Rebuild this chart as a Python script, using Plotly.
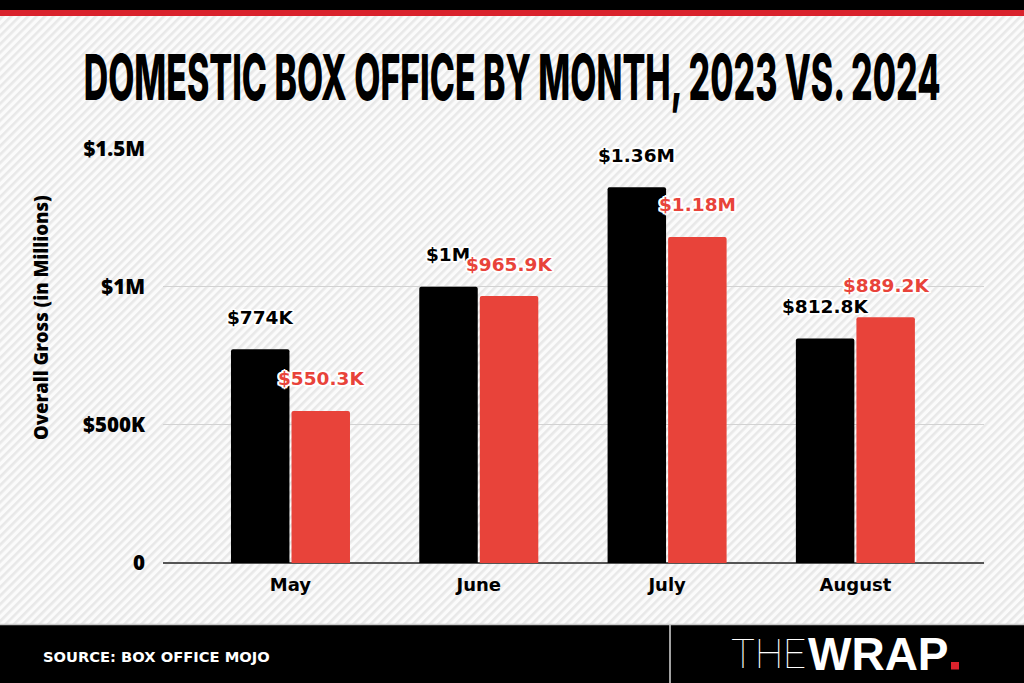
import base64
import json
import plotly.graph_objects as go

# ---- data ----
months = ["May", "June", "July", "August"]
gross_2023 = [774000, 1000000, 1360000, 812800]
gross_2024 = [550300, 965900, 1180000, 889200]
labels_2023 = ["$774K", "$1M", "$1.36M", "$812.8K"]
labels_2024 = ["$550.3K", "$965.9K", "$1.18M", "$889.2K"]
ytick_vals = [0, 500000, 1000000, 1500000]
ytick_text = ["0", "$500K", "$1M", "$1.5M"]

title_text = "DOMESTIC BOX OFFICE BY MONTH, 2023 VS. 2024"
yaxis_title = "Overall Gross (in Millions)"
source_text = "SOURCE: BOX OFFICE MOJO"

BLACK = "#000000"
RED = "#E8433A"
TOPRED = "#D9222C"

W, H = 1024, 683
L, R, T, B = 163, 40, 148, 120
PW, PH = W - L - R, H - T - B


def px(x):
    return (x - L) / PW


def py(y):
    return (H - B - y) / PH


# striped background as an svg pattern
svg = f"""<svg xmlns='http://www.w3.org/2000/svg' width='{W}' height='{H}'>
<defs><pattern id='p' width='6' height='6' patternUnits='userSpaceOnUse' patternTransform='rotate(45)'>
<rect width='6' height='6' fill='#fbfbfb'/><rect width='2.6' height='6' fill='#e8e8e8'/></pattern></defs>
<rect width='{W}' height='{H}' fill='url(#p)'/></svg>"""
svg_uri = "data:image/svg+xml;base64," + base64.b64encode(svg.encode()).decode()

fig = go.Figure()
fig.add_trace(go.Bar(x=months, y=gross_2023, name="2023", marker=dict(color=BLACK, line=dict(width=0)),
                     hoverinfo="skip"))
fig.add_trace(go.Bar(x=months, y=gross_2024, name="2024", marker=dict(color=RED, line=dict(width=0)),
                     hoverinfo="skip"))

outline = ", ".join(f"{a}px {b}px 0 #fff" for a, b in
                    [(2, 0), (-2, 0), (0, 2), (0, -2), (1, 1), (-1, -1), (1, -1), (-1, 1), (2, 1), (-2, -1), (2, -1), (-2, 1)])
annotations = []
half = 30.5
for m, v, t in zip(months, gross_2023, labels_2023):
    annotations.append(dict(x=m, y=v, xref="x", yref="y", text=t, showarrow=False, xshift=-half, yshift=32,
                            font=dict(family="DejaVu Sans", size=18.5, color=BLACK, weight="bold", shadow=outline)))
for m, v, t in zip(months, gross_2024, labels_2024):
    annotations.append(dict(x=m, y=v, xref="x", yref="y", text=t, showarrow=False, xshift=half, yshift=32,
                            font=dict(family="DejaVu Sans", size=18.5, color=RED, weight="bold", shadow=outline)))

TITLE_SIZE = 40
annotations += [
    dict(x=px(512), y=py(77), xref="paper", yref="paper", text=title_text, showarrow=False,
         xanchor="center", yanchor="middle",
         font=dict(family="Inter", size=TITLE_SIZE, color=BLACK, weight=800)),
    dict(x=px(40), y=py(318), xref="paper", yref="paper", text=yaxis_title, showarrow=False, textangle=-90,
         xanchor="center", yanchor="middle",
         font=dict(family="Open Sans", size=18.5, color=BLACK, weight=800)),
    dict(x=px(41), y=py(656), xref="paper", yref="paper", text=source_text, showarrow=False,
         xanchor="left", yanchor="middle",
         font=dict(family="DejaVu Sans", size=14.7, color="#ffffff", weight="bold")),
    dict(x=px(808), y=py(654), xref="paper", yref="paper", text="THE", showarrow=False,
         xanchor="right", yanchor="middle",
         font=dict(family="Roboto", size=40, color="#ffffff", weight=100)),
    dict(x=px(806), y=py(654), xref="paper", yref="paper", text="WRAP", showarrow=False,
         xanchor="left", yanchor="middle",
         font=dict(family="Liberation Sans", size=46, color="#ffffff", weight="bold")),
]

shapes = [
    dict(type="rect", xref="paper", yref="paper", x0=px(0), x1=px(W), y0=py(0), y1=py(10),
         fillcolor=BLACK, line=dict(width=0), layer="above"),
    dict(type="rect", xref="paper", yref="paper", x0=px(0), x1=px(W), y0=py(10), y1=py(16),
         fillcolor=TOPRED, line=dict(width=0), layer="above"),
    dict(type="rect", xref="paper", yref="paper", x0=px(0), x1=px(W), y0=py(625), y1=py(H),
         fillcolor=BLACK, line=dict(width=0), layer="above"),
    dict(type="line", xref="paper", yref="paper", x0=px(0), x1=px(W), y0=py(624.5), y1=py(624.5),
         line=dict(color="#c8c8c8", width=1.5), layer="above"),
    dict(type="line", xref="paper", yref="paper", x0=px(670), x1=px(670), y0=py(625), y1=py(H),
         line=dict(color="#d8d8d8", width=1.5), layer="above"),
    dict(type="rect", xref="paper", yref="paper", x0=px(951), x1=px(959), y0=py(662), y1=py(669.5),
         fillcolor=TOPRED, line=dict(width=0), layer="above"),
]

fig.update_layout(
    width=W, height=H,
    margin=dict(l=L, r=R, t=T, b=B, pad=0),
    paper_bgcolor="#f5f5f5",
    plot_bgcolor="rgba(0,0,0,0)",
    barmode="group",
    bargap=0.357,
    bargroupgap=0.034,
    barcornerradius=2,
    showlegend=False,
    annotations=annotations,
    shapes=shapes,
    images=[dict(source=svg_uri, xref="paper", yref="paper", x=px(0), y=py(0),
                 sizex=W / PW, sizey=H / PH, sizing="stretch", xanchor="left", yanchor="top",
                 layer="below")],
    xaxis=dict(type="category", range=[-0.677, 3.683], showgrid=False, zeroline=False, showline=False,
               ticks="", ticklabelstandoff=9,
               tickfont=dict(family="DejaVu Sans", size=18, color=BLACK, weight="bold")),
    yaxis=dict(range=[0, 1502000], tickvals=ytick_vals, ticktext=ytick_text, showgrid=True,
               gridcolor="#d2d2d2", gridwidth=1, zeroline=True, zerolinecolor="#555555", zerolinewidth=1.5,
               showline=False, ticks="", ticklabelstandoff=17,
               tickfont=dict(family="Open Sans", size=20.5, color=BLACK, weight=800)),
)

# page tweaks: no body margin; condensed/tall headline like the reference
TARGET_W = 857
SY = 46 / (0.727 * TITLE_SIZE)
post_js = """
document.body.style.margin = '0';
document.body.style.overflow = 'hidden';
var gd = document.getElementById('{plot_id}');
var fitTitle = function() {
  gd.querySelectorAll('text.annotation-text').forEach(function(t) {
    if (t.textContent === %s) {
      t.removeAttribute('transform');
      var b = t.getBBox();
      var cx = b.x + b.width / 2, cy = b.y + b.height / 2;
      var sx = %f / b.width, sy = %f;
      t.setAttribute('transform', 'translate(' + cx + ',' + cy + ') scale(' + sx + ',' + sy + ') translate(' + (-cx) + ',' + (-cy) + ')');
    }
  });
};
fitTitle();
gd.on('plotly_afterplot', fitTitle);
""" % (json.dumps(title_text), TARGET_W, SY)

fig.write_html("out.html", post_script=post_js, config={"displayModeBar": False})
